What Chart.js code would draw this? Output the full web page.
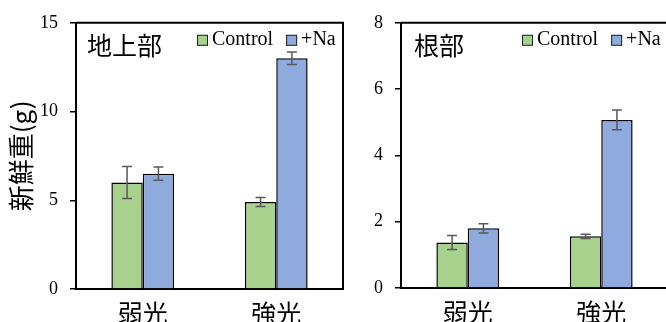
<!DOCTYPE html>
<html>
<head>
<meta charset="utf-8">
<script src="https://cdn.jsdelivr.net/npm/chart.js@4.4.0/dist/chart.umd.min.js"></script>
<style>
html, body { margin: 0; padding: 0; background: #fff; overflow: hidden; }
#wrap { position: relative; width: 666px; height: 322px; overflow: hidden; }
#c1 { position: absolute; left: 0; top: 0; }
#c2 { position: absolute; left: 345px; top: 0; }
</style>
</head>
<body>
<div id="wrap">
  <canvas id="c1" width="345" height="322"></canvas>
  <canvas id="c2" width="330" height="322"></canvas>
</div>
<script>
// data
const categories = ['弱光', '強光'];
const seriesNames = ['Control', '+Na'];

const shootControl = [6.0, 4.9];
const shootControlErr = [0.9, 0.25];
const shootNa = [6.5, 13.0];
const shootNaErr = [0.37, 0.35];
const shootTicks = [0, 5, 10, 15];

const rootControl = [1.37, 1.56];
const rootControlErr = [0.21, 0.065];
const rootNa = [1.80, 5.07];
const rootNaErr = [0.14, 0.30];
const rootTicks = [0, 2, 4, 6, 8];

const green = '#A9D18E';
const blue = '#8FAADC';
const serif = '"Liberation Serif", "Times New Roman", serif';
const cjk = '"Noto Sans CJK JP", "Noto Sans", sans-serif';

// error bars, frame, panel title and legend drawn inside the plot
const panelPlugin = {
    id: 'panel',
    afterDatasetsDraw(chart) {
        const ctx = chart.ctx;
        const yScale = chart.scales.y;
        const area = chart.chartArea;

        ctx.save();
        ctx.strokeStyle = '#595959';
        ctx.lineWidth = 1.5;
        chart.data.datasets.forEach((ds, i) => {
            const meta = chart.getDatasetMeta(i);
            meta.data.forEach((bar, j) => {
                const v = ds.data[j], e = ds.errors[j];
                const yTop = yScale.getPixelForValue(v + e);
                const yBot = yScale.getPixelForValue(v - e);
                ctx.beginPath();
                ctx.moveTo(bar.x, yTop);
                ctx.lineTo(bar.x, yBot);
                ctx.moveTo(bar.x - 5, yTop);
                ctx.lineTo(bar.x + 5, yTop);
                ctx.moveTo(bar.x - 5, yBot);
                ctx.lineTo(bar.x + 5, yBot);
                ctx.stroke();
            });
        });

        // top and right edges of the box
        ctx.strokeStyle = '#000';
        ctx.lineWidth = 2;
        ctx.beginPath();
        ctx.moveTo(area.left, area.top);
        ctx.lineTo(area.right, area.top);
        ctx.lineTo(area.right, area.bottom);
        ctx.stroke();

        const opts = chart.options.plugins.panel;
        ctx.fillStyle = '#000';
        ctx.font = '25px ' + cjk;
        ctx.textBaseline = 'middle';
        ctx.textAlign = 'left';
        ctx.fillText(opts.title, area.left + opts.titleDx, area.top + 23);

        // legend
        let x = area.left + 121;
        const sqTop = area.top + 12;
        ctx.font = '20px ' + serif;
        ctx.textBaseline = 'alphabetic';
        chart.data.datasets.forEach(ds => {
            ctx.fillStyle = ds.backgroundColor;
            ctx.fillRect(x, sqTop, 11, 11);
            ctx.strokeStyle = '#222';
            ctx.lineWidth = 1;
            ctx.strokeRect(x + 0.5, sqTop + 0.5, 10, 10);
            ctx.fillStyle = '#000';
            ctx.fillText(ds.label, x + 15, area.top + 22);
            x += 15 + ctx.measureText(ds.label).width + 13;
        });
        ctx.restore();
    }
};

function makeChart(id, control, controlErr, na, naErr, ticks, opts) {
    return new Chart(document.getElementById(id), {
        type: 'bar',
        data: {
            labels: categories,
            datasets: [{
                label: seriesNames[0],
                data: control,
                errors: controlErr,
                backgroundColor: green,
                borderColor: '#000',
                borderWidth: 1.5
            }, {
                label: seriesNames[1],
                data: na,
                errors: naErr,
                backgroundColor: blue,
                borderColor: '#000',
                borderWidth: 1.5
            }]
        },
        options: {
            responsive: false,
            animation: false,
            categoryPercentage: 0.47,
            barPercentage: 1.0,
            layout: { padding: { top: opts.top, right: opts.right, left: 0, bottom: 0 } },
            plugins: {
                legend: { display: false },
                tooltip: { enabled: false },
                panel: { title: opts.title, titleDx: opts.titleDx }
            },
            scales: {
                x: {
                    grid: { display: false, drawTicks: false },
                    border: { color: '#000', width: 2 },
                    ticks: { color: '#000', font: { family: cjk, size: 25 }, padding: 9 },
                    afterFit: s => { s.height = opts.xHeight; }
                },
                y: {
                    min: ticks[0],
                    max: ticks[ticks.length - 1],
                    afterBuildTicks: s => { s.ticks = ticks.map(v => ({ value: v })); },
                    grid: { drawOnChartArea: false, tickLength: 6, color: '#000', lineWidth: 1.5 },
                    border: { color: '#000', width: 2 },
                    ticks: { color: '#000', font: { family: serif, size: 18 }, padding: 12 },
                    title: {
                        display: !!opts.yTitle,
                        text: opts.yTitle || '',
                        color: '#000',
                        font: { family: cjk, size: 26, lineHeight: 1.2 },
                        padding: { top: 6, bottom: 0 }
                    },
                    afterFit: s => { s.width = opts.yWidth; }
                }
            }
        },
        plugins: [panelPlugin]
    });
}

makeChart('c1', shootControl, shootControlErr, shootNa, shootNaErr, shootTicks, {
    title: '地上部', titleDx: 11, yTitle: '新鮮重(g)',
    top: 20, right: 2, xHeight: 33, yWidth: 76
});

makeChart('c2', rootControl, rootControlErr, rootNa, rootNaErr, rootTicks, {
    title: '根部', titleDx: 13, yTitle: '',
    top: 21, right: 7, xHeight: 34, yWidth: 56
});
</script>
</body>
</html>
